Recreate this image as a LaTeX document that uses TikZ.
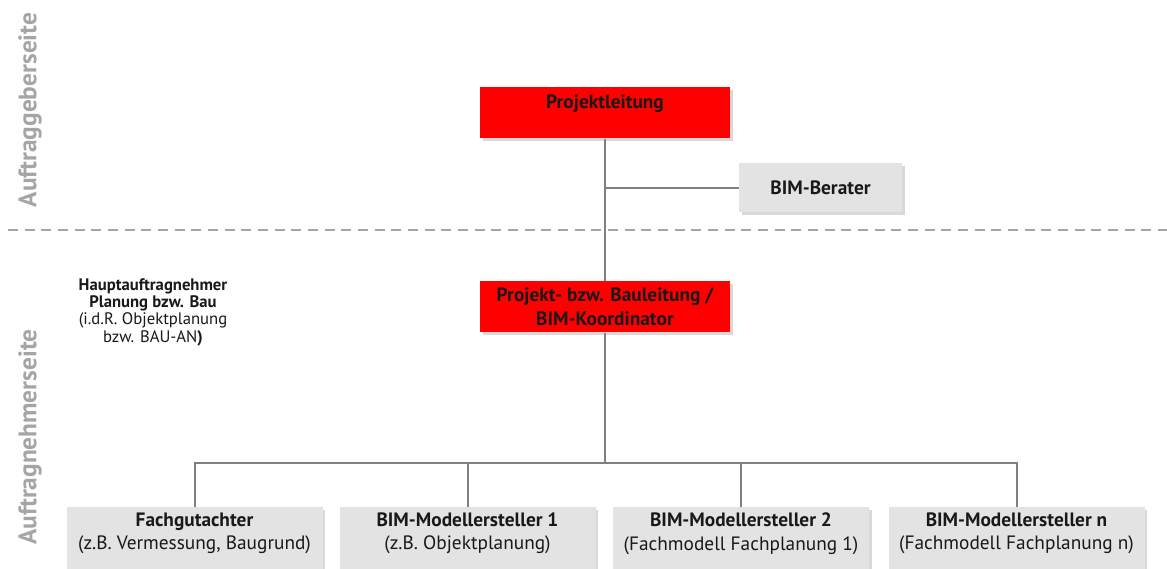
\documentclass[tikz,border=0pt]{standalone}
\usepackage{fontspec}
\setmainfont{PT Sans}
\usetikzlibrary{positioning,shadows}
\definecolor{bimred}{RGB}{255,0,0}
\definecolor{boxgray}{RGB}{227,227,227}
\definecolor{linegray}{RGB}{128,128,128}
\definecolor{sidegray}{RGB}{165,165,165}

\begin{document}
\begin{tikzpicture}[x=0.75pt,y=-0.75pt,
      every node/.style={font=\fontsize{14.5}{17.5}\selectfont, text=black!90},
      box/.style={minimum width=187.5pt, minimum height=38.25pt,
        inner sep=2pt, align=center,
        drop shadow={shadow xshift=2pt, shadow yshift=-2pt, opacity=0.3},
      },
      redbox/.style={box, fill=bimred},
      graybox/.style={box, fill=boxgray},
      bottombox/.style={graybox, minimum width=192pt, minimum height=59pt, anchor=north},
      side/.style={rotate=90, font=\fontsize{19}{22}\selectfont\bfseries, text=sidegray},
      conn/.style={draw=linegray, line width=1.5pt}
      ]
    \clip (0,0) rectangle (1167,568);

    % Auftraggeber
    \node (agseite) [side] at (30,110) {Auftraggeberseite};
    \node (pl) [redbox, anchor=north] at (605,87) {\bfseries Projektleitung\\[-6pt] \strut};
    \node (berater) [graybox, minimum width=122pt, minimum height=36.75pt]
      at (820.5,187.5) {\bfseries BIM-Berater};

    \draw [draw=sidegray, line width=1.2pt, dash pattern=on 7.5pt off 5pt]
      (8,230) -- (1167,230);

    % Auftragnehmer
    \node (anseite) [side] at (30,437) {Auftragnehmerseite};
    \node (han) [align=center, font=\fontsize{12.5}{13}\selectfont] at (153,312)
      {\textbf{Hauptauftragnehmer}\\\textbf{Planung bzw. Bau}\\
       (i.d.R. Objektplanung\\bzw. BAU-AN\textbf{)}};
    \node (koord) [redbox, anchor=north] at (605,281)
      {\bfseries Projekt- bzw. Bauleitung /\\\bfseries BIM-Koordinator};

    \node (fg) [bottombox] at (194.5,507)
      {\textbf{Fachgutachter}\\(z.B. Vermessung, Baugrund)\\ \strut};
    \node (m1) [bottombox] at (467.5,507)
      {\textbf{BIM-Modellersteller 1}\\(z.B. Objektplanung)\\ \strut};
    \node (m2) [bottombox] at (741,507)
      {\textbf{BIM-Modellersteller 2}\\(Fachmodell Fachplanung 1)\\ \strut};
    \node (mn) [bottombox] at (1016.5,507)
      {\textbf{BIM-Modellersteller n}\\(Fachmodell Fachplanung n)\\ \strut};

    % connectors
    \draw [conn] (pl) -- (koord);
    \draw [conn] (pl.south |- berater.west) -- (berater.west);

    \coordinate (bus) at (605,463);
    \draw [conn] (koord) -- (bus);
    \draw [conn] (fg.north) |- (bus) -| (mn.north);
    \draw [conn] (m1.north) -- (m1.north |- bus);
    \draw [conn] (m2.north) -- (m2.north |- bus);
  \end{tikzpicture}
\end{document}
